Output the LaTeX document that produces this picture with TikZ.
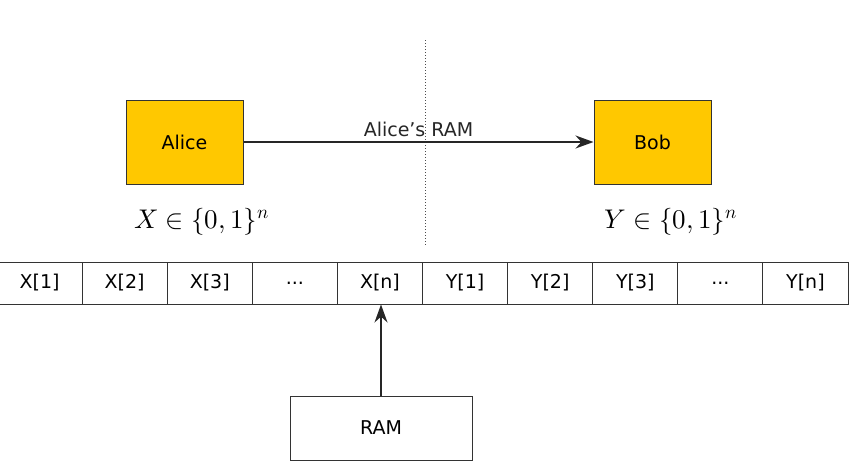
\documentclass[tikz,border=0pt]{standalone}
\usepackage{fontspec}
\setmainfont{DejaVu Sans}
\usepackage{unicode-math}
\setmathfont{Latin Modern Math}
\usetikzlibrary{arrows.meta}
\newcommand\mydots{...}
\begin{document}
\begin{tikzpicture}[x=1pt,y=-1pt,
  agent/.style={draw=black!80,fill={rgb,255:red,255;green,200;blue,0},minimum width=117pt,minimum height=84pt,inner sep=0pt,font=\fontsize{19}{22}\selectfont},
  cell/.style={draw=black!80,line width=1pt,minimum width=85.1pt,minimum height=42pt,inner sep=0pt,font=\fontsize{19}{22}\selectfont},
  arr/.style={-{Stealth[length=18pt,width=13pt]},line width=1.5pt,black!85}]
\useasboundingbox (0,0) rectangle (861,475);
\node[agent,line width=1pt] (alice) at (184.5,142) {Alice};
\node[agent,line width=1pt] (bob) at (652.5,142) {Bob};
\coordinate (dt) at (425,40); \coordinate (db) at (425,245);
\draw[dotted,black!70,line width=1pt] (dt) -- (db);
\draw[arr] (alice) -- node[above=1pt,font=\fontsize{19}{22}\selectfont]{Alice\char"0027s RAM} (bob);
\node[font=\fontsize{27}{30}\selectfont] (xl) at (202,222) {$X\in\{0,1\}^n$};
\node[font=\fontsize{27}{30}\selectfont] (yl) at (671,222) {$Y\in\{0,1\}^n$};
\foreach \t [count=\i] in {X[1],X[2],X[3],\mydots,X[n],Y[1],Y[2],Y[3],\mydots,Y[n]}
  \node[cell] (c\i) at ({-3+85.1*\i-42.55},283) {\t};
\node[cell,minimum width=182pt,minimum height=64pt] (ram) at (381,428) {RAM};
\draw[arr] (ram.north -| 381,0) -- (c5.south -| 381,0);
\end{tikzpicture}
\end{document}
